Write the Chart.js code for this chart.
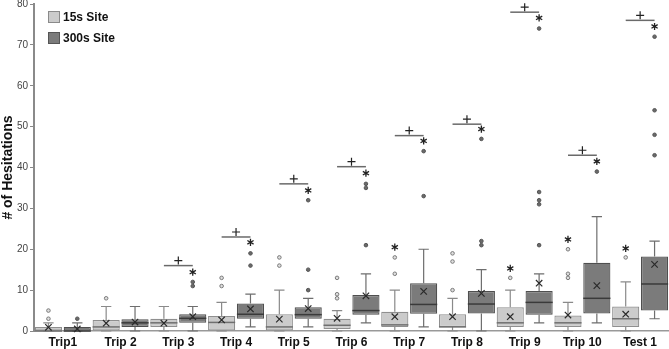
<!DOCTYPE html>
<html>
<head>
<meta charset="utf-8">
<script src="https://cdn.jsdelivr.net/npm/chart.js@4.4.1/dist/chart.umd.min.js"></script>
<style>
    html, body { margin: 0; padding: 0; background: #fff; }
    #wrap { width: 669px; height: 349px; }
</style>
</head>
<body>
<div id="wrap"><canvas id="myChart"></canvas></div>
<script>
var categories = ['Trip1', 'Trip 2', 'Trip 3', 'Trip 4', 'Trip 5', 'Trip 6', 'Trip 7', 'Trip 8', 'Trip 9', 'Trip 10', 'Test 1'];
var yTicks = [0, 10, 20, 30, 40, 50, 60, 70, 80];

// 15s site
var lowS    = [0, 0, 0, 0, 0, 0, 0, 0, 0, 0, 0];
var q1S     = [0, 0, 1, 0, 0, 0.5, 1, 1, 1, 1, 1];
var medS    = [0, 1, 2, 2.1, 1, 1.4, 1.5, 1, 2, 2, 3];
var q3S     = [1, 2.7, 3, 3.7, 4.1, 3, 4.7, 4.1, 5.8, 3.8, 6];
var highS   = [2, 6, 6, 7, 10, 5, 10, 8, 10, 7, 12];
var meanS   = [0.9, 1.9, 1.9, 2.7, 2.9, 3.1, 3.5, 3.5, 3.5, 3.9, 4.1];
var outS    = [[3, 5], [8], [], [11, 13], [16, 18], [8, 9, 13], [14, 18], [10, 17, 19], [13], [13, 14, 20], [18]];
var extS    = [[], [], [], [], [], [], [20.5], [], [15.3], [22.4], [20.2]];

// 300s site
var lowL    = [0, 0, 0, 1, 1, 2, 1, 0, 2, 2, 3];
var q1L     = [0, 1, 2, 3, 3, 4, 4.2, 4.3, 4, 4.3, 5];
var medL    = [0, 2, 3.1, 4.1, 4, 5, 6.5, 6.6, 7, 8, 11.5];
var q3L     = [1, 2.9, 4.1, 6.7, 5.8, 8.8, 11.7, 9.8, 9.8, 16.7, 18.2];
var highL   = [2, 6, 6, 9, 8, 14, 20, 15, 14, 28, 22];
var meanL   = [0.5, 2.2, 3.5, 5.4, 5.5, 8.6, 9.7, 9.2, 11.7, 11.1, 16.3];
var outL    = [[3], [], [11, 12], [16, 19], [10, 15, 32], [21, 35, 36], [33, 44], [21, 22, 47], [21, 31, 32, 34, 74], [39], [43, 48, 54, 72]];
var extL    = [[], [], [14.4], [21.7], [34.4], [38.6], [46.5], [49.4], [76.6], [41.5], [74.5]];

// significance bar level for each category (null = none)
var sigLevel = [null, null, 16, 23, 36, 40.2, 47.8, 50.6, 78, 43, 76];

const light = '#cbcbcb';
const dark = '#7b7b7b';
const FONT = '"Liberation Sans", Arial, sans-serif';

const sites = [
    { low: lowS, q1: q1S, med: medS, q3: q3S, high: highS, mean: meanS, out: outS, ext: extS,
      whisk: '#8a8a8a', medC: '#6f6f6f', outFill: '#dedede', outLine: '#7a7a7a' },
    { low: lowL, q1: q1L, med: medL, q3: q3L, high: highL, mean: meanL, out: outL, ext: extL,
      whisk: '#6e6e6e', medC: '#3a3a3a', outFill: '#6a6a6a', outLine: '#555' }
];

function drawCross(ctx, x, y, r) {
    ctx.beginPath();
    ctx.moveTo(x - r, y - r); ctx.lineTo(x + r, y + r);
    ctx.moveTo(x - r, y + r); ctx.lineTo(x + r, y - r);
    ctx.stroke();
}

function drawStar(ctx, x, y, r) {
    ctx.beginPath();
    for (let a = 0; a < 3; a++) {
        const ang = Math.PI / 2 + a * Math.PI / 3;
        ctx.moveTo(x - r * Math.cos(ang), y - r * Math.sin(ang));
        ctx.lineTo(x + r * Math.cos(ang), y + r * Math.sin(ang));
    }
    ctx.stroke();
}

const boxParts = {
    id: 'boxParts',
    afterDatasetsDraw(chart) {
        const ctx = chart.ctx;
        const y = chart.scales.y;
        ctx.save();
        sites.forEach((s, k) => {
            const meta = chart.getDatasetMeta(k);
            meta.data.forEach((bar, i) => {
                const cap = bar.width * 0.19;
                const yq1 = y.getPixelForValue(s.q1[i]);
                const yq3 = y.getPixelForValue(s.q3[i]);
                const ylo = y.getPixelForValue(s.low[i]);
                const yhi = y.getPixelForValue(s.high[i]);
                ctx.strokeStyle = s.whisk;
                ctx.lineWidth = 1.2;
                ctx.beginPath();
                ctx.moveTo(bar.x, yq3); ctx.lineTo(bar.x, yhi);
                ctx.moveTo(bar.x - cap, yhi); ctx.lineTo(bar.x + cap, yhi);
                ctx.moveTo(bar.x, yq1); ctx.lineTo(bar.x, ylo);
                ctx.moveTo(bar.x - cap, ylo); ctx.lineTo(bar.x + cap, ylo);
                ctx.stroke();

                const ym = y.getPixelForValue(s.med[i]);
                ctx.strokeStyle = s.medC;
                ctx.lineWidth = 1.5;
                ctx.beginPath();
                ctx.moveTo(bar.x - bar.width / 2, ym);
                ctx.lineTo(bar.x + bar.width / 2, ym);
                ctx.stroke();

                // outliers
                s.out[i].forEach(v => {
                    ctx.beginPath();
                    ctx.arc(bar.x, y.getPixelForValue(v), 1.8, 0, Math.PI * 2);
                    ctx.fillStyle = s.outFill;
                    ctx.fill();
                    ctx.strokeStyle = s.outLine;
                    ctx.lineWidth = 1;
                    ctx.stroke();
                });

                // extremes
                ctx.strokeStyle = '#222';
                ctx.lineWidth = 1.3;
                s.ext[i].forEach(v => drawStar(ctx, bar.x, y.getPixelForValue(v), 3.6));

                // mean
                ctx.strokeStyle = '#2a2a2a';
                ctx.lineWidth = 1.2;
                drawCross(ctx, bar.x, y.getPixelForValue(s.mean[i]), 3.2);
            });
        });

        // significance bars
        const m0 = chart.getDatasetMeta(0);
        const m1 = chart.getDatasetMeta(1);
        sigLevel.forEach((lv, i) => {
            if (lv === null) return;
            const yy = y.getPixelForValue(lv);
            const x0 = m0.data[i].x;
            const x1 = m1.data[i].x;
            ctx.strokeStyle = '#6a6a6a';
            ctx.lineWidth = 1.5;
            ctx.beginPath();
            ctx.moveTo(x0, yy); ctx.lineTo(x1, yy);
            ctx.stroke();
            const cx = (x0 + x1) / 2;
            const cy = yy - 5;
            ctx.strokeStyle = '#222';
            ctx.lineWidth = 1.2;
            ctx.beginPath();
            ctx.moveTo(cx - 4, cy); ctx.lineTo(cx + 4, cy);
            ctx.moveTo(cx, cy - 4); ctx.lineTo(cx, cy + 4);
            ctx.stroke();
        });
        ctx.restore();
    },
    afterDraw(chart) {
        const ctx = chart.ctx;
        ctx.save();
        const items = [['15s Site', light, '#8a8a8a'], ['300s Site', dark, '#555']];
        ctx.font = 'bold 12px ' + FONT;
        ctx.textBaseline = 'middle';
        ctx.textAlign = 'left';
        items.forEach((it, k) => {
            const top = 11 + k * 21;
            ctx.fillStyle = it[1];
            ctx.fillRect(48.5, top + 0.5, 11, 11);
            ctx.strokeStyle = it[2];
            ctx.lineWidth = 1;
            ctx.strokeRect(48.5, top + 0.5, 11, 11);
            ctx.fillStyle = '#111';
            ctx.fillText(it[0], 63, top + 6.5);
        });
        ctx.restore();
    }
};

function createChart() {
    const ctx = document.getElementById('myChart');
    new Chart(ctx, {
        type: 'bar',
        data: {
            labels: categories,
            datasets: [{
                label: '15s Site',
                data: q1S.map((v, i) => [v, q3S[i]]),
                backgroundColor: light,
                borderColor: '#8f8f8f',
                borderWidth: 1.2,
                borderSkipped: false
            }, {
                label: '300s Site',
                data: q1L.map((v, i) => [v, q3L[i]]),
                backgroundColor: dark,
                borderColor: '#4f4f4f',
                borderWidth: 1.2,
                borderSkipped: false
            }]
        },
        options: {
            responsive: true,
            maintainAspectRatio: false,
            animation: false,
            layout: { padding: { top: 4, right: 0, left: 0, bottom: 0 } },
            plugins: {
                legend: { display: false },
                tooltip: { enabled: false }
            },
            categoryPercentage: 1.0,
            barPercentage: 0.94,
            scales: {
                x: {
                    grid: { display: false, drawTicks: false },
                    border: { color: '#999', width: 1.5 },
                    ticks: {
                        color: '#111',
                        padding: 4,
                        font: { family: FONT, size: 12, weight: 'bold' }
                    },
                    afterFit(scale) { scale.height = 18; }
                },
                y: {
                    min: 0,
                    max: 80,
                    afterBuildTicks(scale) { scale.ticks = yTicks.map(v => ({ value: v })); },
                    grid: { display: true, drawOnChartArea: false, drawTicks: true, tickLength: 4, color: '#888' },
                    border: { color: '#8a8a8a', width: 2 },
                    ticks: {
                        color: '#444',
                        padding: 2,
                        font: { family: FONT, size: 10 }
                    },
                    title: {
                        display: true,
                        text: '# of Hesitations',
                        color: '#111',
                        padding: { top: 0, bottom: 2 },
                        font: { family: FONT, size: 14, weight: 'bold' }
                    },
                    afterFit(scale) {
                        scale.width = 34;
                        scale.paddingTop = 0;
                        scale.paddingBottom = 0;
                    }
                }
            }
        },
        plugins: [boxParts]
    });
}

createChart();
</script>
</body>
</html>
